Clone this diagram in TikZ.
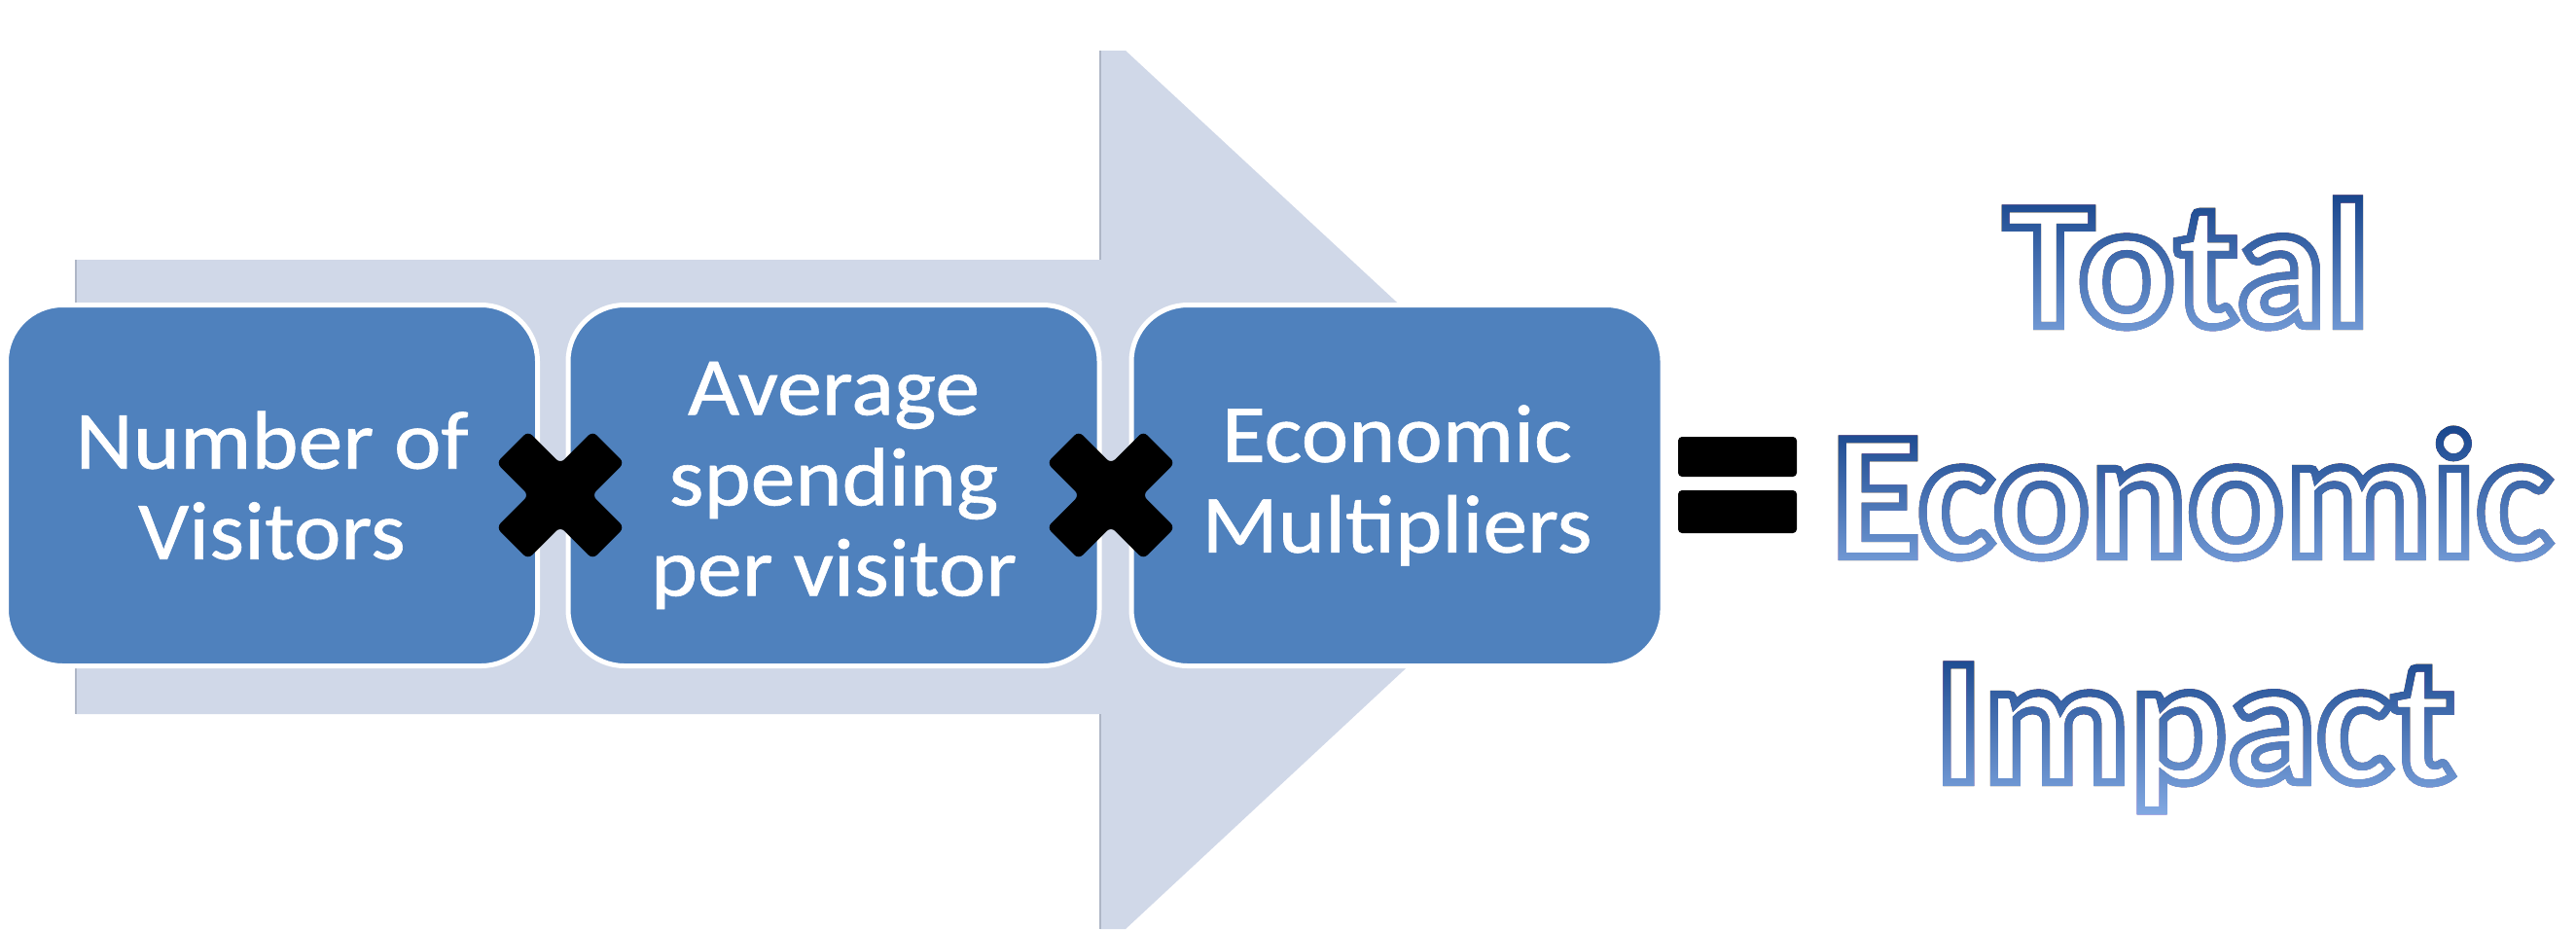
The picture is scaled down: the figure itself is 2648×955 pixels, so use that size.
\documentclass[tikz,border=0pt]{standalone}
\usepackage{graphicx}
\usepackage{fontspec}
\newfontfamily\boxfont[FakeBold=0.7]{Carlito}
\newfontfamily\bigfont[FakeBold=4.3]{Carlito Bold}
\definecolor{arrowfill}{HTML}{D0D8E8}
\definecolor{arrowedge}{HTML}{AEB6C6}
\definecolor{boxfill}{HTML}{4F81BD}
\definecolor{outdark}{HTML}{0E3C84}
\definecolor{outlight}{HTML}{8DB3EB}
\newcommand{\sxl}[1]{\scalebox{1.08}[1]{#1}}
\newcommand{\hollow}[1]{\special{pdf:bcolor [1 1 1] [0 0 0]}#1\special{pdf:ecolor}}
\tikzset{
  procbox/.style={draw=white, line width=2.5pt, fill=boxfill, rounded corners=29pt,
    minimum width=273pt, minimum height=185.5pt, inner sep=0pt, text=white, align=center,
    font=\boxfont\fontsize{42.5pt}{46.5pt}\selectfont},
  timesmark/.style={fill=black, rounded corners=3pt},
  equalbar/.style={fill=black, rounded corners=2pt},
  bigtxt/.style={font=\bigfont\fontsize{93pt}{114pt}\selectfont, anchor=base, inner sep=0pt, outer sep=0pt}
}
\newcommand{\outlinedword}[4]{%
  \node[bigtxt] (#1) at (#2,#3) {\hollow{#4}};
  \begin{scope}[blend mode=lighten]
    \shade[top color=outdark, bottom color=outlight] (#2-390,#3-152) rectangle (#2+390,#3+51);
  \end{scope}
}
\begin{document}
\begin{tikzpicture}[x=0.5pt,y=-0.5pt]
\useasboundingbox (0,0) rectangle (2648,955);
\fill[white] (0,0) rectangle (2648,955);
% background arrow
\fill[arrowfill] (78,267) -- (1131,267) -- (1131,52) -- (1157,52) -- (1643,503)
  -- (1157,955) -- (1131,955) -- (1131,734) -- (78,734) -- cycle;
\draw[arrowedge, line width=1pt] (78,267) -- (78,734);
\draw[arrowedge, line width=1pt] (1131,52) -- (1131,267);
\draw[arrowedge, line width=1pt] (1131,734) -- (1131,955);
% process boxes
\node[procbox] (b1) at (279.5,499) {\sxl{Number of}\\\sxl{Visitors}};
\node[procbox] (b2) at (857,499) {\sxl{Average}\\\sxl{spending}\\\sxl{per visitor}};
\node[procbox] (b3) at (1436,499) {\sxl{Economic}\\\sxl{Multipliers}};
% multiplication signs
\fill[timesmark, shift={(576,509)}, rotate=45]
  (0,70) -- (23,70) -- (23,23) -- (70,23) -- (70,-23) -- (23,-23) -- (23,-70)
  -- (-23,-70) -- (-23,-23) -- (-70,-23) -- (-70,23) -- (-23,23) -- (-23,70) -- cycle;
\fill[timesmark, shift={(1142,509)}, rotate=45]
  (0,70) -- (23,70) -- (23,23) -- (70,23) -- (70,-23) -- (23,-23) -- (23,-70)
  -- (-23,-70) -- (-23,-23) -- (-70,-23) -- (-70,23) -- (-23,23) -- (-23,70) -- cycle;
% equals sign
\fill[equalbar] (1725,449) rectangle (1847,490);
\fill[equalbar] (1725,504) rectangle (1847,548);
% result text
\outlinedword{tot}{2248}{335}{Total}
\outlinedword{eco}{2253}{572}{Economic}
\outlinedword{imp}{2256}{804}{Impact}
\end{tikzpicture}
\end{document}
